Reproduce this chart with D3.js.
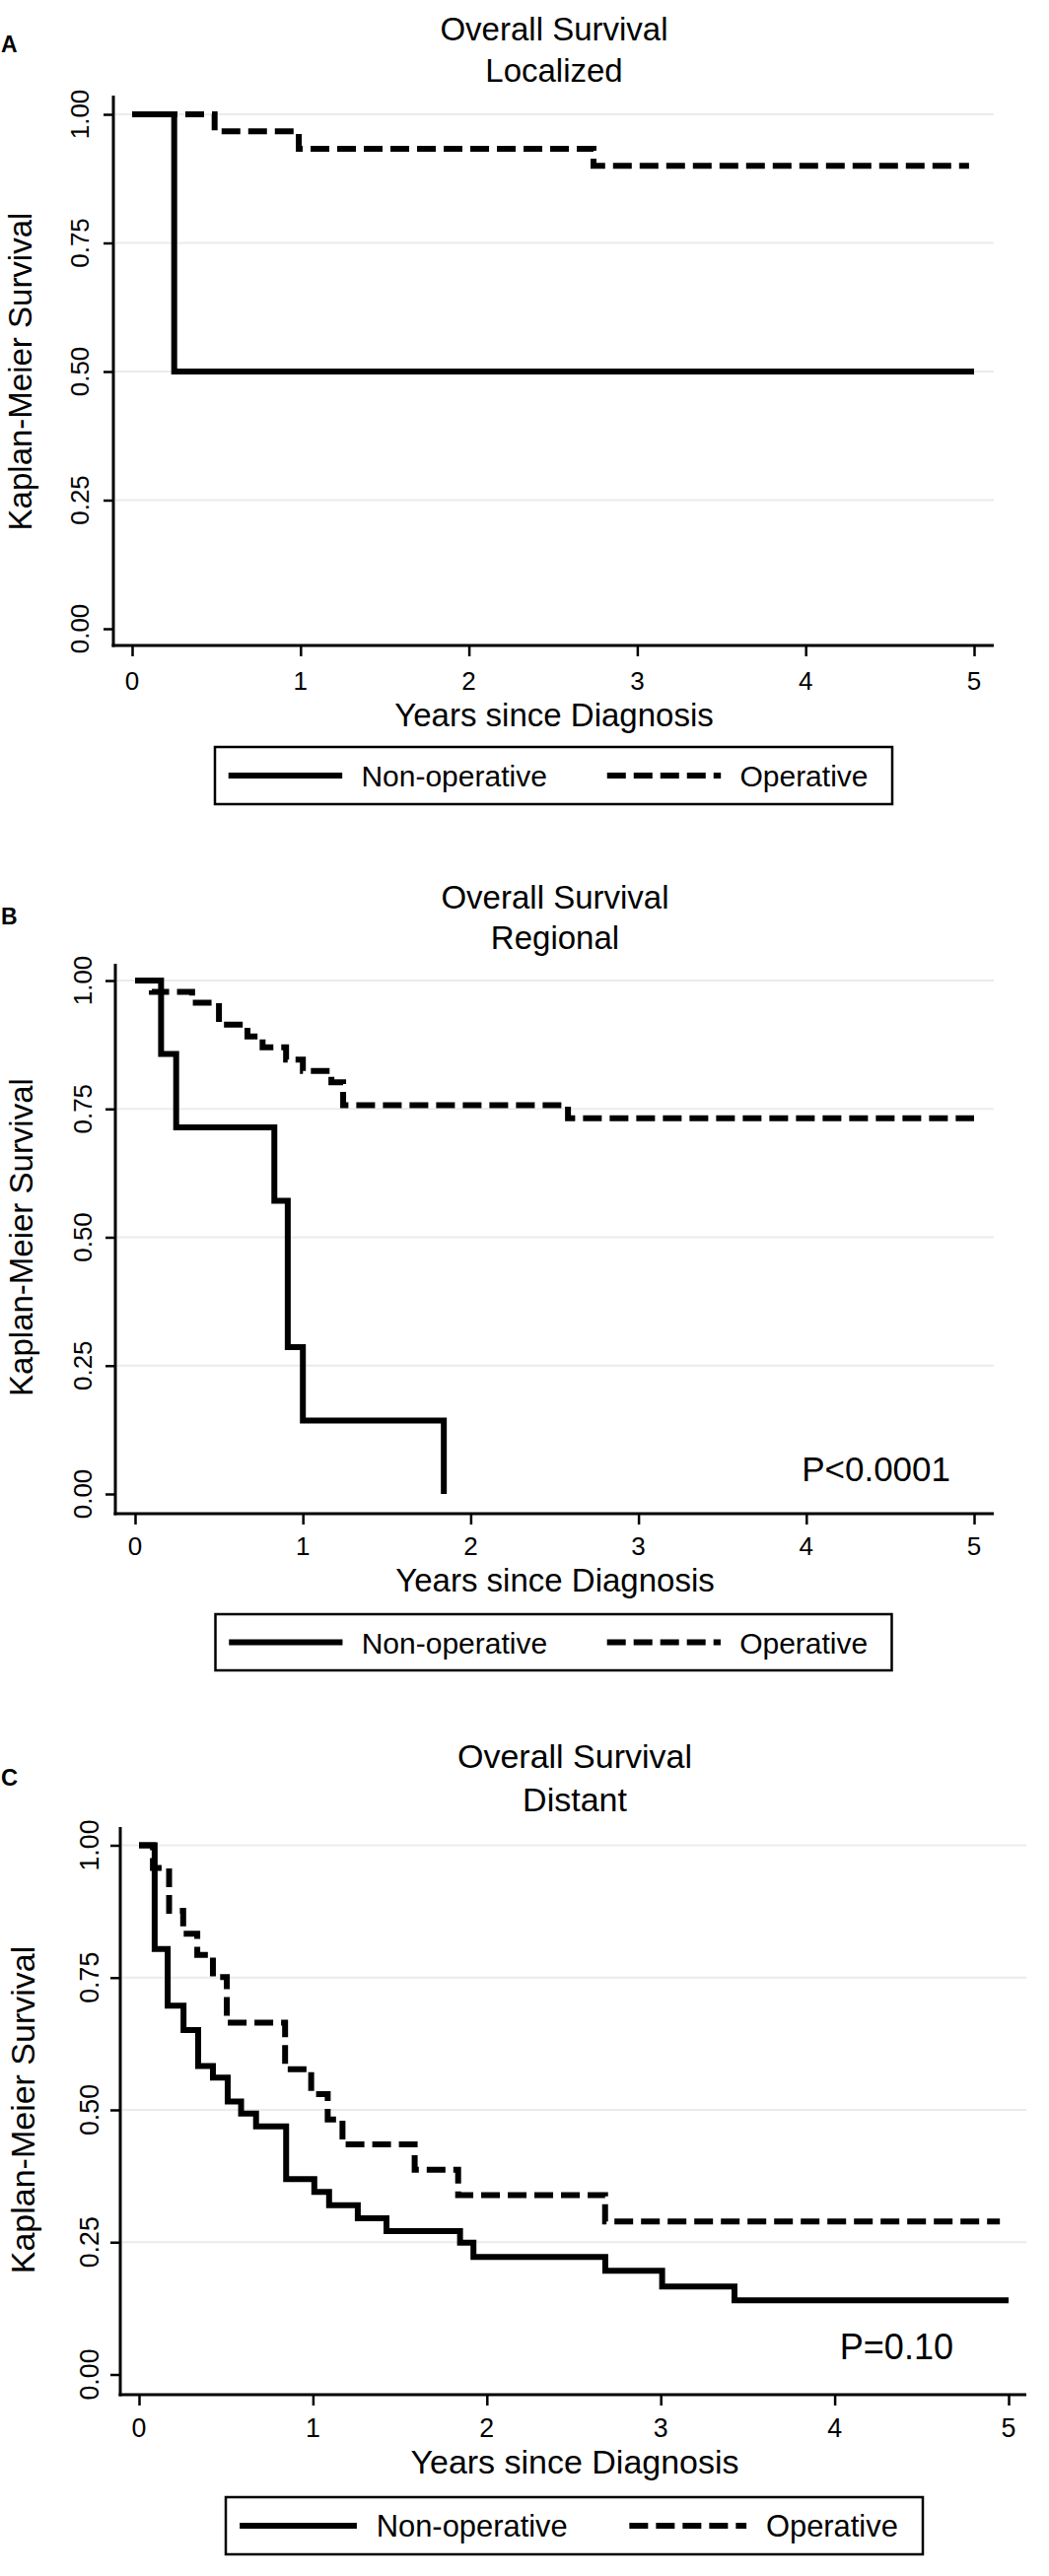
<!DOCTYPE html>
<html>
<head>
<meta charset="utf-8">
<script src="https://cdn.jsdelivr.net/npm/d3@7"></script>
<style>
  html, body { margin: 0; padding: 0; background: #fff; }
  svg { display: block; }
  text { font-family: "Liberation Sans", Arial, Helvetica, sans-serif; fill: #000; }
</style>
</head>
<body>
<svg id="chart" width="1064" height="2614"></svg>
<script>
// ---------- data ----------
const panelLetters = ["A", "B", "C"];
const titleLine1 = "Overall Survival";
const stageNames = ["Localized", "Regional", "Distant"];
const pValueLabels = [null, "P<0.0001", "P=0.10"];
const xTicks = [0, 1, 2, 3, 4, 5];
const yTicks = [0, 0.25, 0.5, 0.75, 1];
const xTitle = "Years since Diagnosis";
const yTitle = "Kaplan-Meier Survival";
const seriesNames = ["Non-operative", "Operative"];

// step points: [years, survival after the step]
const localizedNonOp = [[0, 1], [0.25, 0.5], [5, 0.5]];
const localizedOp = [[0, 1], [0.49, 0.967], [0.99, 0.933], [2.74, 0.9], [4.97, 0.9]];

const regionalNonOp = [[0, 1], [0.155, 0.857], [0.245, 0.714], [0.83, 0.571], [0.91, 0.286], [1.0, 0.143], [1.84, 0.143], [1.84, 0]];
const regionalOp = [[0, 1], [0.10, 0.978], [0.34, 0.957], [0.50, 0.914], [0.67, 0.891], [0.76, 0.870], [0.90, 0.846],
                    [1.0, 0.824], [1.17, 0.802], [1.24, 0.757], [2.58, 0.732], [5, 0.732]];

const distantNonOp = [[0, 1], [0.09, 0.804], [0.165, 0.697], [0.256, 0.651], [0.34, 0.583], [0.425, 0.561], [0.51, 0.516],
                      [0.587, 0.493], [0.673, 0.469], [0.846, 0.369], [1.008, 0.345], [1.093, 0.320], [1.258, 0.295],
                      [1.423, 0.271], [1.846, 0.249], [1.923, 0.222], [2.681, 0.196], [3.008, 0.166], [3.424, 0.140], [5, 0.140]];
const distantOp = [[0, 1], [0.08, 0.957], [0.173, 0.876], [0.254, 0.833], [0.335, 0.793], [0.425, 0.751], [0.505, 0.665],
                   [0.84, 0.577], [0.99, 0.530], [1.085, 0.482], [1.17, 0.435], [1.585, 0.387], [1.835, 0.339],
                   [2.68, 0.289], [4.95, 0.289]];

const curvesByPanel = [
  [localizedNonOp, localizedOp],
  [regionalNonOp, regionalOp],
  [distantNonOp, distantOp]
];

// ---------- layout (pixel positions) ----------
const layouts = [
  { s: 1.0, axisTop: 97, y1: 116, y0: 638, axisY: 655, axisX: 115, x0: 134, x5: 988, right: 1008,
    title1Y: 41, title2Y: 83, titleX: 562, letterY: 53, tickLabelY: 700, xTitleY: 737,
    legend: { x: 218, y: 758, w: 687, h: 58 }, yTickLabelX: 90, yTitleX: 32, p: null },
  { s: 1.0, axisTop: 978, y1: 995, y0: 1516, axisY: 1536, axisX: 117, x0: 137, x5: 988, right: 1008,
    title1Y: 922, title2Y: 963, titleX: 563, letterY: 938, tickLabelY: 1578, xTitleY: 1615,
    legend: { x: 218.5, y: 1638, w: 686, h: 57 }, yTickLabelX: 93, yTitleX: 33, p: { x: 964, y: 1503 } },
  { s: 1.03, axisTop: 1854, y1: 1872.5, y0: 2409.5, axisY: 2430, axisX: 122, x0: 141, x5: 1023, right: 1041,
    title1Y: 1794, title2Y: 1838, titleX: 583, letterY: 1812, tickLabelY: 2473, xTitleY: 2510,
    legend: { x: 229, y: 2534, w: 707, h: 58 }, yTickLabelX: 100, yTitleX: 35, p: { x: 967, y: 2394 } }
];

const lineStyles = [
  { dash: null },
  { dash: "19,8" }
];

const svg = d3.select("#chart");

layouts.forEach((L, i) => {
  const g = svg.append("g");
  const s = L.s;
  const x = d3.scaleLinear().domain([0, 5]).range([L.x0, L.x5]);
  const y = d3.scaleLinear().domain([0, 1]).range([L.y0, L.y1]);

  // panel letter
  g.append("text").attr("x", 1).attr("y", L.letterY)
    .style("font-size", (23 * s) + "px").style("font-weight", "bold").text(panelLetters[i]);

  // titles
  g.append("text").attr("x", L.titleX).attr("y", L.title1Y).attr("text-anchor", "middle")
    .style("font-size", (33 * s) + "px").text(titleLine1);
  g.append("text").attr("x", L.titleX).attr("y", L.title2Y).attr("text-anchor", "middle")
    .style("font-size", (33 * s) + "px").text(stageNames[i]);

  // gridlines
  g.append("g").selectAll("line").data(yTicks.filter(d => d > 0)).join("line")
    .attr("x1", L.axisX + 2).attr("x2", L.right)
    .attr("y1", d => y(d)).attr("y2", d => y(d))
    .attr("stroke", "#ebebeb").attr("stroke-width", 2);

  // y axis
  const yAxis = d3.axisLeft(y).tickValues(yTicks).tickSize(10).tickFormat(d3.format(".2f"));
  const ya = g.append("g").attr("transform", `translate(${L.axisX},0)`).call(yAxis);
  ya.select(".domain").remove();
  ya.selectAll(".tick line").attr("stroke", "#000").attr("stroke-width", 2.5);
  ya.selectAll(".tick text").remove();
  g.append("line").attr("x1", L.axisX).attr("x2", L.axisX).attr("y1", L.axisTop).attr("y2", L.axisY + 1.5)
    .attr("stroke", "#000").attr("stroke-width", 3);
  g.append("g").selectAll("text").data(yTicks).join("text")
    .attr("transform", d => `translate(${L.yTickLabelX},${y(d)}) rotate(-90)`)
    .attr("text-anchor", "middle")
    .style("font-size", (26 * s) + "px")
    .text(d => d3.format(".2f")(d));

  // x axis
  const xAxis = d3.axisBottom(x).tickValues(xTicks).tickSize(11).tickFormat(d3.format("d"));
  const xa = g.append("g").attr("transform", `translate(0,${L.axisY})`).call(xAxis);
  xa.select(".domain").remove();
  xa.selectAll(".tick line").attr("stroke", "#000").attr("stroke-width", 2.5);
  xa.selectAll(".tick text").remove();
  g.append("line").attr("x1", L.axisX - 1.5).attr("x2", L.right).attr("y1", L.axisY).attr("y2", L.axisY)
    .attr("stroke", "#000").attr("stroke-width", 3);
  g.append("g").selectAll("text").data(xTicks).join("text")
    .attr("x", d => x(d)).attr("y", L.tickLabelY).attr("text-anchor", "middle")
    .style("font-size", (26 * s) + "px").text(d => d);

  // axis titles
  g.append("text").attr("x", L.titleX).attr("y", L.xTitleY).attr("text-anchor", "middle")
    .style("font-size", (33 * s) + "px").text(xTitle);
  g.append("text")
    .attr("transform", `translate(${L.yTitleX},${(y(0) + y(1)) / 2}) rotate(-90)`)
    .attr("text-anchor", "middle").style("font-size", (33 * s) + "px").text(yTitle);

  // curves
  const line = d3.line().x(d => x(d[0])).y(d => y(d[1])).curve(d3.curveStepAfter);
  curvesByPanel[i].forEach((data, k) => {
    g.append("path").datum(data).attr("d", line)
      .attr("fill", "none").attr("stroke", "#000").attr("stroke-width", 6)
      .attr("stroke-linejoin", "miter")
      .attr("stroke-dasharray", lineStyles[k].dash);
  });

  // p value
  if (pValueLabels[i]) {
    g.append("text").attr("x", L.p.x).attr("y", L.p.y).attr("text-anchor", "end")
      .style("font-size", (35 * s) + "px").text(pValueLabels[i]);
  }

  // legend
  const lg = L.legend;
  g.append("rect").attr("x", lg.x).attr("y", lg.y).attr("width", lg.w).attr("height", lg.h)
    .attr("fill", "#fff").attr("stroke", "#000").attr("stroke-width", 2.5);
  const ly = lg.y + lg.h / 2;
  const legendPos = [
    { l1: 0.020, l2: 0.188, t: 0.216 },
    { l1: 0.579, l2: 0.747, t: 0.775 }
  ];
  seriesNames.forEach((name, k) => {
    const p = legendPos[k];
    g.append("line").attr("x1", lg.x + p.l1 * lg.w).attr("x2", lg.x + p.l2 * lg.w)
      .attr("y1", ly).attr("y2", ly)
      .attr("stroke", "#000").attr("stroke-width", 6)
      .attr("stroke-dasharray", lineStyles[k].dash);
    g.append("text").attr("x", lg.x + p.t * lg.w).attr("y", ly + 11 * s)
      .style("font-size", (30 * s) + "px").text(name);
  });
});
</script>
</body>
</html>
